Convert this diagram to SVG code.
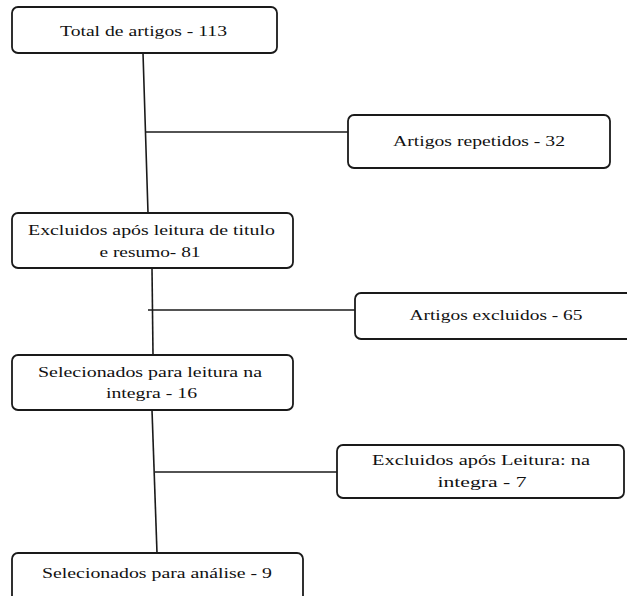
<svg xmlns="http://www.w3.org/2000/svg" width="627" height="596" viewBox="0 0 627 596">
<style>
.box{fill:#fff;stroke:#1a1a1a;stroke-width:1.8}
.ln{stroke:#1a1a1a;stroke-width:1.6;fill:none}
text{font-family:'Liberation Serif','DejaVu Serif',serif;font-size:15px;fill:#111;text-anchor:middle}
</style>
<rect width="627" height="596" fill="#fff"/>
<g id="connectors">
<path class="ln" d="M143,53 L148,213"/>
<path class="ln" d="M146,132 H348"/>
<path class="ln" d="M152,268 L153,355"/>
<path class="ln" d="M148,310 H355"/>
<path class="ln" d="M152,410 L157,553"/>
<path class="ln" d="M155,472 H337"/>
</g>
<g id="n1"><rect class="box" x="12" y="7" width="265" height="46" rx="6"/><text x="143.5" y="36" textLength="167" lengthAdjust="spacingAndGlyphs">Total de artigos - 113</text></g>
<g id="n2"><rect class="box" x="348" y="115" width="262" height="53" rx="6"/><text x="479" y="146" textLength="172" lengthAdjust="spacingAndGlyphs">Artigos repetidos - 32</text></g>
<g id="n3"><rect class="box" x="12" y="213" width="281" height="55" rx="6"/><text x="151.5" y="235" textLength="247" lengthAdjust="spacingAndGlyphs">Excluidos após  leitura de titulo</text><text x="150" y="257" textLength="101" lengthAdjust="spacingAndGlyphs">e resumo- 81</text></g>
<g id="n4"><rect class="box" x="355" y="293" width="280" height="46" rx="6"/><text x="496" y="320" textLength="173" lengthAdjust="spacingAndGlyphs">Artigos excluidos - 65</text></g>
<g id="n5"><rect class="box" x="12" y="355" width="281" height="55" rx="6"/><text x="150" y="377" textLength="224" lengthAdjust="spacingAndGlyphs">Selecionados para leitura na</text><text x="151.5" y="398" textLength="91" lengthAdjust="spacingAndGlyphs">integra - 16</text></g>
<g id="n6"><rect class="box" x="337" y="445" width="287" height="53" rx="6"/><text x="481" y="465" textLength="218" lengthAdjust="spacingAndGlyphs">Excluidos  após  Leitura: na</text><text x="482" y="487" textLength="89" lengthAdjust="spacingAndGlyphs">integra  - 7</text></g>
<g id="n7"><rect class="box" x="12" y="553" width="291" height="60" rx="6"/><text x="157" y="578" textLength="230" lengthAdjust="spacingAndGlyphs">Selecionados para análise - 9</text></g>
</svg>
